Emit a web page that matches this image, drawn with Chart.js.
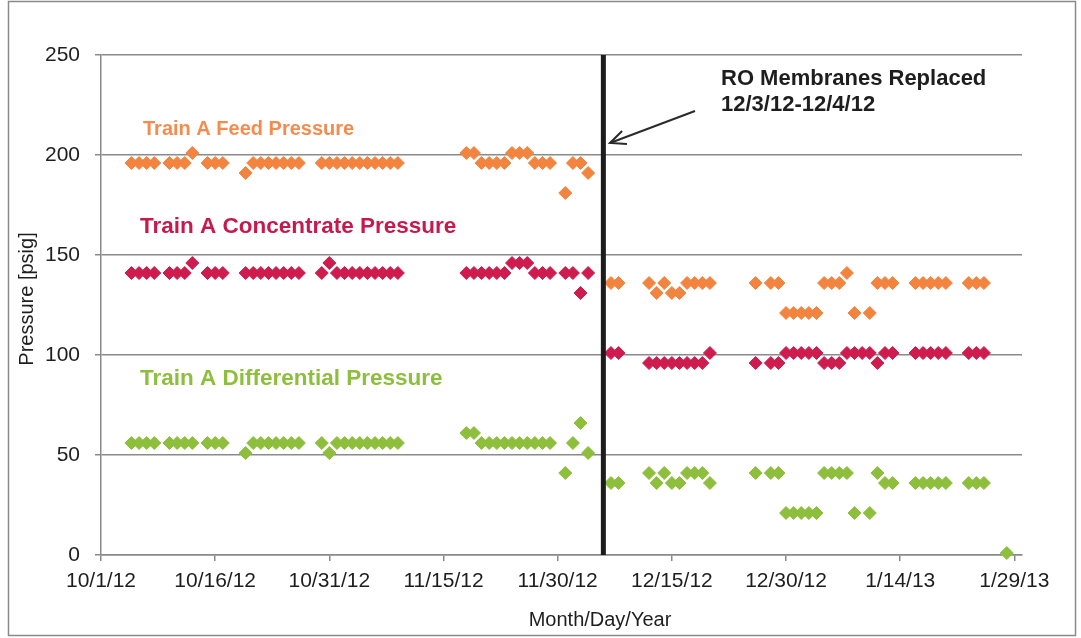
<!DOCTYPE html>
<html><head><meta charset="utf-8">
<script src="https://cdn.jsdelivr.net/npm/chart.js@4.4.1/dist/chart.umd.min.js"></script>
<style>html,body{margin:0;padding:0;background:#fff;}</style>
</head><body>
<canvas id="c" width="1081" height="638"></canvas>
<script>
// x values are day offsets from 10/1/12
const tickDays = [0, 15, 30, 45, 60, 75, 90, 105, 120];
const tickLabels = ['10/1/12', '10/16/12', '10/31/12', '11/15/12', '11/30/12', '12/15/12', '12/30/12', '1/14/13', '1/29/13'];

const feedDays = [4,5,6,7, 9,10,11,12, 14,15,16, 19, 20,21,22,23,24,25,26,
  29,30,31,32,33,34,35,36,37,38,39, 48,49, 50,51,52,53, 54,55,56, 57,58,59, 61,62,63,64,
  67,68, 72,73,74,75,76,77,78,79,80, 86,88,89, 90,91,92,93,94, 95,96,97,98, 99, 101,
  102,103,104, 107,108,109,110,111, 114,115,116];
const feedPsig = [196,196,196,196, 196,196,196,201, 196,196,196, 191, 196,196,196,196,196,196,196,
  196,196,196,196,196,196,196,196,196,196,196, 201,201, 196,196,196,196, 201,201,201, 196,196,196, 181,196,196,191,
  136,136, 136,131,136,131,131,136,136,136,136, 136,136,136, 121,121,121,121,121, 136,136,136,141, 121, 121,
  136,136,136, 136,136,136,136,136, 136,136,136];

const concDays = [4,5,6,7, 9,10,11,12, 14,15,16, 19,20,21,22,23,24,25,26,
  29,30,31,32,33,34,35,36,37,38,39, 48,49,50,51,52,53,54,55,56,57,58,59, 61,62,63,64,
  67,68, 72,73,74,75,76,77,78,79,80, 86,88,89, 90,91,92,93,94, 95,96,97,98, 99,100,101,
  102, 103,104, 107,108,109,110,111, 114,115,116];
const concPsig = [141,141,141,141, 141,141,141,146, 141,141,141, 141,141,141,141,141,141,141,141,
  141,146,141,141,141,141,141,141,141,141,141, 141,141,141,141,141,141,146,146,146,141,141,141, 141,141,131,141,
  101,101, 96,96,96,96,96,96,96,96,101, 96,96,96, 101,101,101,101,101, 96,96,96,101, 101,101,101,
  96, 101,101, 101,101,101,101,101, 101,101,101];

const diffDays = [4,5,6,7, 9,10,11,12, 14,15,16, 19, 20,21,22,23,24,25,26,
  29,30,31,32,33,34,35,36,37,38,39, 48,49, 50,51,52,53,54,55,56,57,58,59, 61,62,63,64,
  67,68, 72,73,74,75,76,77,78,79,80, 86,88,89, 90,91,92,93,94, 95,96,97,98, 99, 101,
  102, 103,104, 107,108,109,110,111, 114,115,116, 119];
const diffPsig = [56,56,56,56, 56,56,56,56, 56,56,56, 51, 56,56,56,56,56,56,56,
  56,51,56,56,56,56,56,56,56,56,56, 61,61, 56,56,56,56,56,56,56,56,56,56, 41,56,66,51,
  36,36, 41,36,41,36,36,41,41,41,36, 41,41,41, 21,21,21,21,21, 41,41,41,41, 21, 21,
  41, 36,36, 36,36,36,36,36, 36,36,36, 1];

const membraneDay = 66;

const toPts = (xs, ys) => xs.map((x, i) => ({x: x, y: ys[i]}));

const FEED = '#F3843F', CONC = '#CF1C4E', DIFF = '#8DBF3C';
const FONT = '"Liberation Sans", Arial, sans-serif';

const decor = {
  id: 'decor',
  afterDraw(chart) {
    const ctx = chart.ctx;
    ctx.save();
    // outer border
    ctx.strokeStyle = '#8a8a8a';
    ctx.lineWidth = 1.5;
    ctx.strokeRect(8.5, 1.5, 1067, 634);
    // series labels
    ctx.textAlign = 'left';
    ctx.textBaseline = 'middle';
    ctx.font = 'bold 20px ' + FONT;
    ctx.fillStyle = '#F58C4E'; ctx.fillText('Train A Feed Pressure', 143, 129);
    ctx.font = 'bold 22.5px ' + FONT;
    ctx.fillStyle = '#C8194C'; ctx.fillText('Train A Concentrate Pressure', 140, 227);
    ctx.fillStyle = '#8DBF3C'; ctx.fillText('Train A Differential Pressure', 140, 379);
    // annotation
    ctx.fillStyle = '#1e1e1e';
    ctx.font = 'bold 22px ' + FONT;
    ctx.fillText('RO Membranes Replaced', 721, 79);
    ctx.fillText('12/3/12-12/4/12', 721, 105);
    // arrow
    ctx.strokeStyle = '#2a2a2a';
    ctx.lineWidth = 2;
    const x0 = 695, y0 = 111, x1 = 610, y1 = 143;
    ctx.beginPath(); ctx.moveTo(x0, y0); ctx.lineTo(x1, y1); ctx.stroke();
    const a = Math.atan2(y1 - y0, x1 - x0), L = 17, w = 0.42;
    ctx.beginPath();
    ctx.moveTo(x1 - L * Math.cos(a - w), y1 - L * Math.sin(a - w));
    ctx.lineTo(x1, y1);
    ctx.lineTo(x1 - L * Math.cos(a + w), y1 - L * Math.sin(a + w));
    ctx.stroke();
    // axis titles
    ctx.fillStyle = '#1e1e1e';
    ctx.font = '20px ' + FONT;
    ctx.textAlign = 'center';
    ctx.fillText('Month/Day/Year', 600, 620);
    ctx.translate(27, 299);
    ctx.rotate(-Math.PI / 2);
    ctx.fillText('Pressure [psig]', 0, 0);
    ctx.restore();
  }
};

const mk = (label, pts, color) => ({
  type: 'scatter', label: label, data: pts,
  pointStyle: 'rectRot', pointRadius: 6.5, pointHoverRadius: 6.5,
  backgroundColor: color, borderColor: color, borderWidth: 1, clip: false
});

new Chart(document.getElementById('c'), {
  type: 'scatter',
  data: {
    datasets: [
      {type: 'line', label: 'RO Membranes Replaced', data: [{x: membraneDay, y: 0}, {x: membraneDay, y: 250}],
       borderColor: '#1c1c1c', borderWidth: 5, pointRadius: 0, clip: false},
      mk('Train A Feed Pressure', toPts(feedDays, feedPsig), FEED),
      mk('Train A Concentrate Pressure', toPts(concDays, concPsig), CONC),
      mk('Train A Differential Pressure', toPts(diffDays, diffPsig), DIFF)
    ]
  },
  options: {
    responsive: false, animation: false, devicePixelRatio: 1,
    layout: {padding: {left: 10, right: 59, top: 55, bottom: 0}},
    plugins: {legend: {display: false}, tooltip: {enabled: false}},
    scales: {
      x: {
        type: 'linear', min: 0, max: 121,
        afterBuildTicks: s => { s.ticks = tickDays.map(v => ({value: v})); },
        afterFit: s => { s.height = 83; },
        ticks: {autoSkip: false, maxRotation: 0, padding: 8, color: '#1e1e1e',
          font: {family: FONT, size: 21},
          callback: v => tickLabels[tickDays.indexOf(v)]},
        grid: {drawOnChartArea: false, drawTicks: true, tickLength: 6, color: '#8a8a8a', lineWidth: 1.5},
        border: {color: '#8a8a8a', width: 1.5}
      },
      y: {
        min: 0, max: 250,
        afterFit: s => { s.width = 91; },
        ticks: {stepSize: 50, padding: 15, color: '#1e1e1e', font: {family: FONT, size: 21}},
        grid: {color: '#8a8a8a', lineWidth: 1.5, tickLength: 6},
        border: {color: '#8a8a8a', width: 1.5}
      }
    }
  },
  plugins: [decor]
});
</script>
</body></html>
